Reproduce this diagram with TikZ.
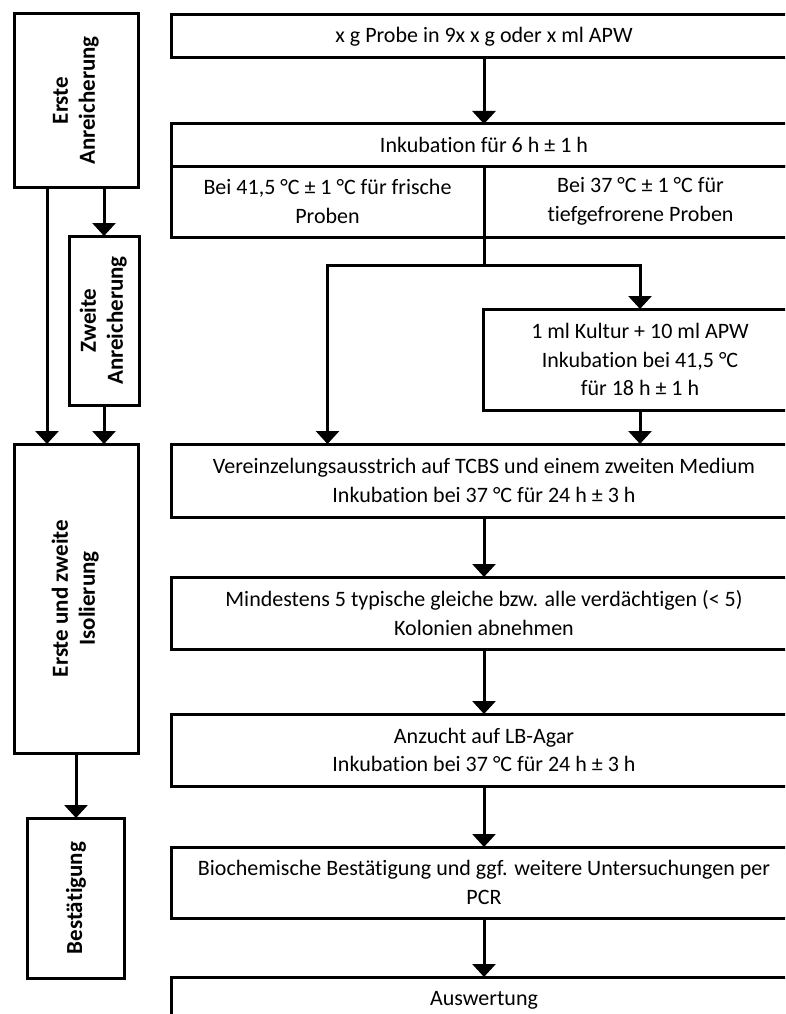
\documentclass[tikz,border=0pt]{standalone}
\usepackage{fontspec}
\setmainfont{Carlito}[Ligatures={NoCommon}]
\usepackage{graphicx}
\usetikzlibrary{arrows.meta}
\begin{document}
\begin{tikzpicture}[x=1pt,y=-1pt,
  box/.style={draw,line width=3pt,inner sep=2pt,outer sep=0pt,align=center,font=\fontsize{22}{28.5}\selectfont},
  sidebox/.style={box,font=\bfseries\fontsize{23}{27}\selectfont},
  arr/.style={line width=3pt,-{Triangle[width=23pt,length=13pt]}},
  ln/.style={line width=3pt}]
\useasboundingbox (0,0) rectangle (785,1014);
\clip (0,0) rectangle (785,1014);
% right column
\node[box,minimum width=626pt,minimum height=43pt] (top) at (484,36.5) {x g Probe in 9x x g oder x ml APW};
\node[box,minimum width=626pt,minimum height=42pt] (ink) at (484,145) {Inkubation für 6 h ± 1 h};
\node[box,minimum width=313pt,minimum height=71pt] (bl) at (327.5,201.5) {Bei 41,5 °C ± 1 °C für frische\\Proben};
\node[box,minimum width=313pt,minimum height=71pt] (br) at (640.5,201.5) {Bei 37 °C ± 1 °C für\\tiefgefrorene Proben};
\node[box,minimum width=314pt,minimum height=101pt] (kul) at (640,359.5) {1 ml Kultur + 10 ml APW\\Inkubation bei 41,5 °C\\für 18 h ± 1 h};
\node[box,minimum width=626pt,minimum height=73pt] (ver) at (484,480.5) {Vereinzelungsausstrich auf TCBS und einem zweiten Medium\\Inkubation bei 37 °C für 24 h ± 3 h};
\node[box,minimum width=626pt,minimum height=72pt] (min) at (484,613) {Mindestens 5 typische gleiche bzw. alle verdächtigen (< 5)\\Kolonien abnehmen};
\node[box,minimum width=626pt,minimum height=72pt] (anz) at (484,750) {Anzucht auf LB-Agar\\Inkubation bei 37 °C für 24 h ± 3 h};
\node[box,minimum width=626pt,minimum height=71pt] (bio) at (484,882.5) {Biochemische Bestätigung und ggf. weitere Untersuchungen per\\PCR};
\node[box,minimum width=626pt,minimum height=46pt] (aus) at (484,1000) {Auswertung};
% left column
\node[sidebox,minimum width=124pt,minimum height=173pt] (e1) at (76,100.5) {\rotatebox{90}{\begin{tabular}{@{}c@{}}Erste\\Anreicherung\end{tabular}}};
\node[sidebox,minimum width=70pt,minimum height=169pt] (z2) at (104,320.5) {\rotatebox{90}{\begin{tabular}{@{}c@{}}Zweite\\Anreicherung\end{tabular}}};
\node[sidebox,minimum width=124pt,minimum height=309pt] (iso) at (76,598.5) {\rotatebox{90}{\begin{tabular}{@{}c@{}}Erste und zweite\\Isolierung\end{tabular}}};
\node[sidebox,minimum width=97pt,minimum height=160pt] (bes) at (76,898) {\rotatebox{90}{Bestätigung}};
% connectors right
\coordinate (split) at (484,265);
\draw[arr] (top.south) -- (ink.north);
\draw[ln] (bl.south east) -- (split);
\draw[arr] (split) -| (kul.north);
\draw[arr] (split) -| (ver.north -| bl.south);
\draw[arr] (kul.south) -- (ver.north -| kul.south);
\draw[arr] (ver.south) -- (min.north);
\draw[arr] (min.south) -- (anz.north);
\draw[arr] (anz.south) -- (bio.north);
\draw[arr] (bio.south) -- (aus.north);
% connectors left
\coordinate (c1) at (47,0);
\draw[arr] (e1.south -| c1) -- (iso.north -| c1);
\draw[arr] (e1.south -| z2.north) -- (z2.north);
\draw[arr] (z2.south) -- (iso.north -| z2.south);
\draw[arr] (iso.south) -- (bes.north);
\end{tikzpicture}
\end{document}
